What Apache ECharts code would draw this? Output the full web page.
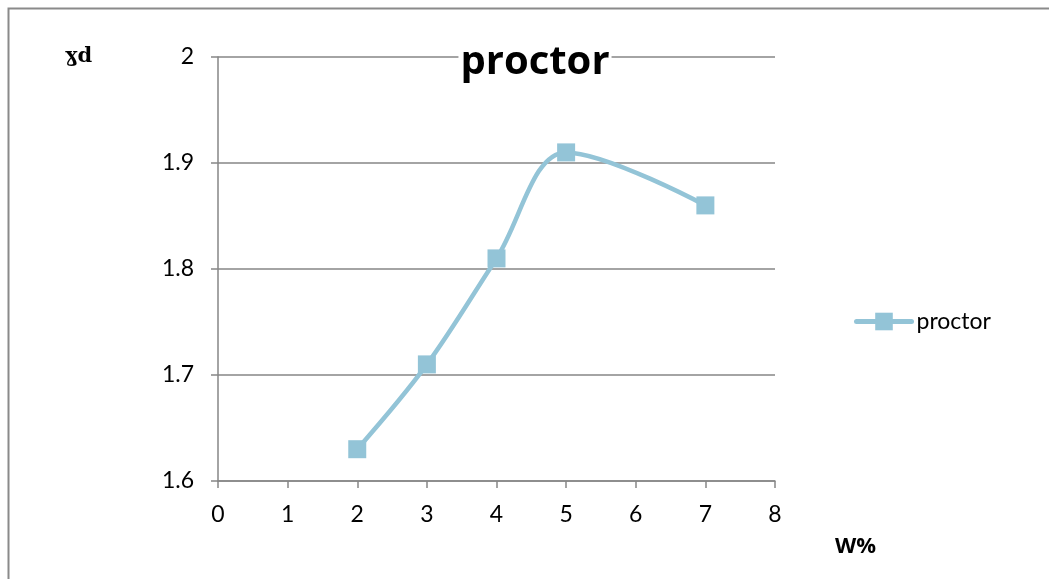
<!DOCTYPE html>
<html>
<head>
<meta charset="utf-8">
<script src="https://cdn.jsdelivr.net/npm/echarts@6/dist/echarts.min.js"></script>
<style>
  html, body { margin: 0; padding: 0; background: #fff; }
  #chart { width: 1049px; height: 579px; }
</style>
</head>
<body>
<div id="chart"></div>
<script>
// Moisture content (W%) against dry density (ɣd)
const moisture = [2, 3, 4, 5, 7];
const dryDensity = [1.63, 1.71, 1.81, 1.91, 1.86];
const seriesName = 'proctor';
const xTicks = { min: 0, max: 8, interval: 1 };
const yTicks = { min: 1.6, max: 2, interval: 0.1 };

const axisGray = '#868686';
const lineBlue = '#93C4D7';
const labelFont = 'Lato, "Open Sans", sans-serif';

const chart = echarts.init(document.getElementById('chart'), null, { renderer: 'canvas' });

chart.setOption({
  backgroundColor: '#fff',
  animation: false,
  title: {
    text: 'proctor',
    left: 533,
    top: 43,
    textAlign: 'center',
    backgroundColor: '#fff',
    padding: [0, 2],
    textStyle: { fontFamily: '"Open Sans", Lato, sans-serif', fontWeight: 'bold', fontSize: 40, color: '#000' }
  },
  legend: {
    data: [seriesName],
    left: 849,
    top: 305,
    itemWidth: 55,
    itemHeight: 22,
    itemGap: 4,
    lineStyle: { width: 5, cap: 'round' },
    textStyle: { fontFamily: labelFont, fontSize: 23, color: '#000' }
  },
  grid: { left: 218, top: 57, width: 557, height: 424 },
  xAxis: {
    type: 'value',
    min: xTicks.min, max: xTicks.max, interval: xTicks.interval,
    axisLine: { show: true, lineStyle: { color: axisGray, width: 1.5 } },
    axisTick: { show: true, length: 7, lineStyle: { color: axisGray, width: 1.5 } },
    axisLabel: { margin: 22, fontFamily: labelFont, fontSize: 23, color: '#000' },
    splitLine: { show: false }
  },
  yAxis: {
    type: 'value',
    min: yTicks.min, max: yTicks.max, interval: yTicks.interval,
    axisLine: { show: true, lineStyle: { color: axisGray, width: 1.5 } },
    axisTick: { show: true, length: 7, lineStyle: { color: axisGray, width: 1.5 } },
    axisLabel: { margin: 24, fontFamily: labelFont, fontSize: 23, color: '#000' },
    splitLine: { show: true, lineStyle: { color: axisGray, width: 1.5 } }
  },
  graphic: [
    {
      type: 'rect',
      silent: true,
      shape: { x: 8.5, y: 8.5, width: 1200, height: 800 },
      style: { fill: null, stroke: '#8a8a8a', lineWidth: 2 }
    },
    {
      type: 'text',
      left: 65,
      top: 46,
      style: { text: 'ɣd', font: 'bold 21px "DejaVu Serif", "Liberation Serif", serif', fill: '#000' }
    },
    {
      type: 'text',
      left: 835,
      top: 536,
      style: { text: 'W%', font: 'bold 22px "Open Sans", Lato, sans-serif', fill: '#000' }
    }
  ],
  series: [{
    name: seriesName,
    type: 'line',
    data: moisture.map((w, i) => [w, dryDensity[i]]),
    smooth: 0.35,
    symbol: 'rect',
    symbolSize: 18,
    itemStyle: { color: lineBlue },
    lineStyle: { color: lineBlue, width: 4.5 }
  }]
});
</script>
</body>
</html>
